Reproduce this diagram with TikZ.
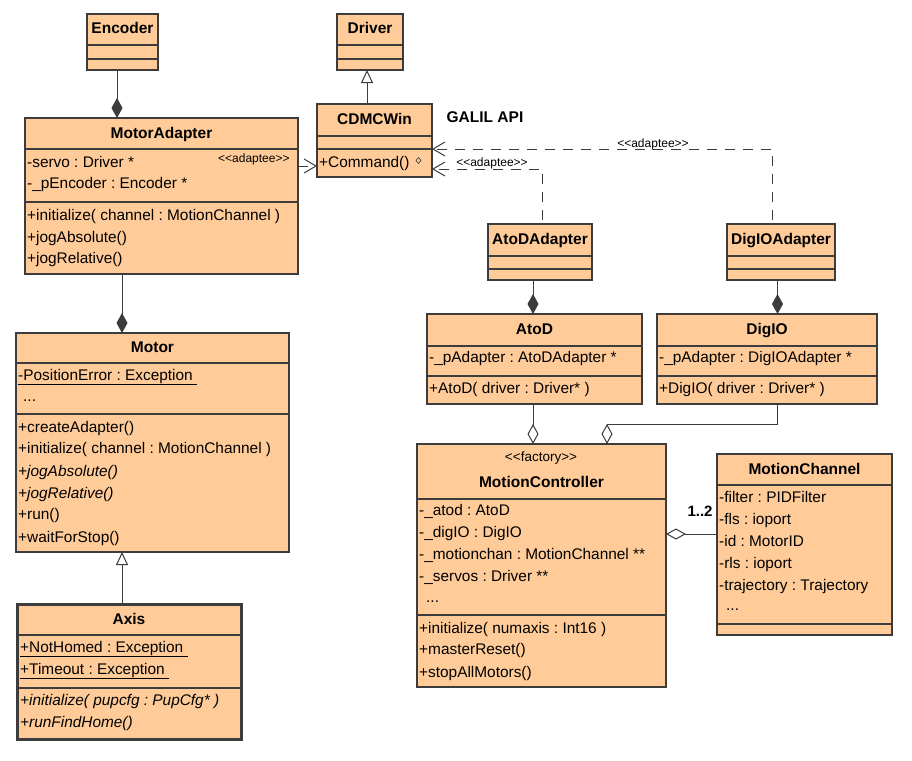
\documentclass[tikz,border=0pt]{standalone}
\usepackage{fontspec}
\setmainfont{Liberation Sans}
\usetikzlibrary{arrows.meta,calc}
\definecolor{peach}{RGB}{255,204,153}
\definecolor{edge}{RGB}{60,60,60}
\tikzset{
 classbox/.style={draw=edge, fill=peach, line width=1.2pt, inner sep=0pt, outer sep=0pt},
 divline/.style={draw=edge, line width=1.2pt},
 lbl/.style={anchor=west, inner sep=0pt, text height=11pt, text depth=3pt, font=\frenchspacing\fontsize{15.4}{18}\selectfont},
 ttl/.style={inner sep=0pt, text height=11pt, text depth=3pt, font=\bfseries\fontsize{15.5}{18}\selectfont},
 stereo/.style={inner sep=0pt, font=\fontsize{12}{14}\selectfont},
 conn/.style={draw=edge, line width=1pt},
 dep/.style={conn, dash pattern=on 10pt off 8pt, -{Straight Barb[length=12pt,width=14pt]}},
 gen/.style={conn, -{Triangle[fill=white, length=13pt, width=12pt]}},
 comp/.style={conn, -{Diamond[fill=edge, length=20pt, width=11pt]}},
 aggr/.style={conn, -{Diamond[fill=white, length=20pt, width=11pt]}},
}
\newcommand\umlcls[6][]{\node[classbox,#1,minimum width={#5pt-#3pt},minimum height={#6pt-#4pt}] (#2) at ({(#3+#5)/2},{(#4+#6)/2}) {};}
\newcommand\umldiv[2]{\draw[divline] (#1.west |- 0,#2) -- (#1.east |- 0,#2);}
\newcommand\umlrow[4]{\node[lbl] (#1) at (#2,#3) {#4};}
\begin{document}
\begin{tikzpicture}[x=1pt,y=-1pt]
\useasboundingbox[fill=white] (0,0) rectangle (912,760);

% ---------- class boxes ----------
\umlcls{encoder}{87}{14}{158}{70}
\umldiv{encoder}{45}\umldiv{encoder}{59}
\node[ttl] (encT) at (encoder.center |- 0,30) {Encoder};

\umlcls{driver}{337}{14}{403}{70}
\umldiv{driver}{45}\umldiv{driver}{59}
\node[ttl] (drvT) at (driver.center |- 0,30) {Driver};

\umlcls{cdmc}{317}{104}{432}{177}
\umldiv{cdmc}{136}\umldiv{cdmc}{149}
\node[ttl] (cdmcT) at (cdmc.center |- 0,120) {CDMCWin};
\umlrow{cd1}{319}{163}{+Command()}
\draw[draw=edge, line width=0.6pt] (418.5,157.5) -- (421,160.5) -- (418.5,163.5) -- (416,160.5) -- cycle;

\node[ttl] (galil) at (485,118) {GALIL API};

\umlcls{madapter}{25}{118}{298}{274}
\umldiv{madapter}{149}\umldiv{madapter}{202}
\node[ttl] (maT) at (madapter.center |- 0,134) {MotorAdapter};
\umlrow{ma1}{27}{163}{-servo : Driver *}
\umlrow{ma2}{27}{184}{-\_pEncoder : Encoder *}
\umlrow{ma3}{27}{216}{+initialize( channel : MotionChannel )}
\umlrow{ma4}{27}{238}{+jogAbsolute()}
\umlrow{ma5}{27}{259}{+jogRelative()}
\node[stereo, anchor=west] (maS) at (218,159) {<{}<adaptee>{}>};

\umlcls{aoda}{488}{224}{592}{280}
\umldiv{aoda}{256}\umldiv{aoda}{269}
\node[ttl] (aodaT) at (aoda.center |- 0,240) {AtoDAdapter};

\umlcls{dioa}{727}{224}{835}{280}
\umldiv{dioa}{256}\umldiv{dioa}{269}
\node[ttl] (dioaT) at (dioa.center |- 0,240) {DigIOAdapter};

\umlcls{atod}{427}{314}{642}{404}
\umldiv{atod}{346}\umldiv{atod}{376}
\node[ttl] (atodT) at (atod.center |- 0,330) {AtoD};
\umlrow{at1}{429}{358}{-\_pAdapter : AtoDAdapter *}
\umlrow{at2}{429}{389}{+AtoD( driver : Driver* )}

\umlcls{dio}{657}{314}{877}{404}
\umldiv{dio}{346}\umldiv{dio}{376}
\node[ttl] (dioT) at (dio.center |- 0,330) {DigIO};
\umlrow{di1}{659}{358}{-\_pAdapter : DigIOAdapter *}
\umlrow{di2}{659}{389}{+DigIO( driver : Driver* )}

\umlcls{motor}{16}{333}{289}{552}
\umldiv{motor}{363}\umldiv{motor}{414}
\node[ttl] (moT) at (motor.center |- 0,348) {Motor};
\umlrow{mo1}{18}{376}{\underline{-PositionError : Exception\ }}
\umlrow{mo2}{23}{397}{...}
\umlrow{mo3}{18}{428}{+createAdapter()}
\umlrow{mo4}{18}{449}{+initialize( channel : MotionChannel )}
\umlrow{mo5}{18}{472}{\textit{+jogAbsolute()}}
\umlrow{mo6}{18}{494}{\textit{+jogRelative()}}
\umlrow{mo7}{18}{515}{+run()}
\umlrow{mo8}{18}{538}{+waitForStop()}

\umlcls[line width=3pt]{axis}{17}{604}{241}{739}
\umldiv{axis}{635}\umldiv{axis}{688}
\node[ttl] (axT) at (axis.center |- 0,620) {Axis};
\umlrow{ax1}{20}{648}{\underline{+NotHomed : Exception\ }}
\umlrow{ax2}{20}{670}{\underline{+Timeout : Exception\ }}
\umlrow{ax3}{20}{701}{\textit{+initialize( pupcfg : PupCfg* )}}
\umlrow{ax4}{20}{723}{\textit{+runFindHome()}}

\umlcls{mc}{417}{444}{666}{687}
\umldiv{mc}{499}\umldiv{mc}{615}
\node[stereo, font=\fontsize{13.5}{15}\selectfont] (mcS) at (541,458) {<{}<factory>{}>};
\node[ttl] (mcT) at (mc.center |- 0,483) {MotionController};
\umlrow{mc1}{419}{511}{-\_atod : AtoD}
\umlrow{mc2}{419}{533}{-\_digIO : DigIO}
\umlrow{mc3}{419}{555}{-\_motionchan : MotionChannel **}
\umlrow{mc4}{419}{577}{-\_servos : Driver **}
\umlrow{mc5}{426}{598}{...}
\umlrow{mc6}{419}{629}{+initialize( numaxis : Int16 )}
\umlrow{mc7}{419}{650}{+masterReset()}
\umlrow{mc8}{419}{673}{+stopAllMotors()}

\umlcls{mch}{717}{454}{892}{635}
\umldiv{mch}{485}\umldiv{mch}{624}
\node[ttl] (mchT) at (mch.center |- 0,470) {MotionChannel};
\umlrow{ch1}{719}{498}{-filter : PIDFilter}
\umlrow{ch2}{719}{520}{-fls : ioport}
\umlrow{ch3}{719}{542}{-id : MotorID}
\umlrow{ch4}{719}{564}{-rls : ioport}
\umlrow{ch5}{719}{586}{-trajectory : Trajectory}
\umlrow{ch6}{726}{606}{...}

% ---------- connectors ----------
\coordinate (x117) at (117,0);
\draw[comp] (encoder.south -| x117) -- (madapter.north -| x117);
\coordinate (x367) at (367,0);
\draw[gen] (cdmc.north -| x367) -- (driver.south -| x367);
\coordinate (x122) at (122,0);
\draw[comp] (madapter.south -| x122) -- (motor.north -| x122);
\draw[gen] (axis.north -| x122) -- (motor.south -| x122);

\coordinate (y166) at (0,166);
\draw[dep] (madapter.east |- y166) -- (cdmc.west |- y166);

\coordinate (dA) at (772,149);
\draw[dep] ($(dioa.north -| dA)+(0,-4)$) -- (dA) -- (cdmc.east |- dA);
\node[stereo] (lblA) at (653,144) {<{}<adaptee>{}>};
\coordinate (dB) at (542,169);
\draw[dep] ($(aoda.north -| dB)+(0,-4)$) -- (dB) -- (cdmc.east |- dB);
\node[stereo] (lblB) at (492,163) {<{}<adaptee>{}>};

\coordinate (x533) at (533,0);
\draw[comp] (aoda.south -| x533) -- (atod.north -| x533);
\draw[aggr] (atod.south -| x533) -- (mc.north -| x533);
\coordinate (x777) at (777.5,0);
\draw[comp] (dioa.south -| x777) -- (dio.north -| x777);
\coordinate (jA) at (777.5,424);
\coordinate (jB) at (607,424);
\draw[aggr] (dio.south -| jA) -- (jA) -- (jB) -- (mc.north -| jB);
\coordinate (y534) at (0,534);
\draw[aggr] (mch.west |- y534) -- (mc.east |- y534);
\node[inner sep=0pt, font=\bfseries\fontsize{15}{18}\selectfont] (mult) at (700,511) {1..2};
\end{tikzpicture}
\end{document}
